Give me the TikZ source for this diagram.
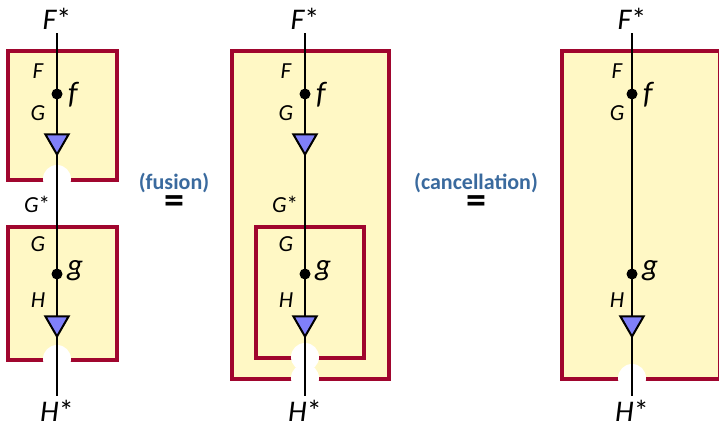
\documentclass[tikz,border=0pt]{standalone}
\usepackage{fontspec}
\setmainfont{Carlito}
\usetikzlibrary{shapes.geometric}

\definecolor{boxred}{HTML}{A0062E}
\definecolor{boxfill}{HTML}{FFF8C5}
\definecolor{trifill}{HTML}{8080FA}
\definecolor{rulecol}{HTML}{3A6A9E}

\tikzset{
  region/.style={draw=boxred, fill=boxfill, line width=3.5pt},
  notch/.style={fill=white},
  wire/.style={line width=2.2pt},
  dotnode/.style={circle, fill=black, inner sep=0pt, minimum size=11pt},
  dualtri/.style={regular polygon, regular polygon sides=3, shape border rotate=180,
    draw=black, fill=trifill, line width=2pt, inner sep=0pt, minimum size=27pt},
  endlbl/.style={font=\fontsize{30}{32}\selectfont\itshape, inner sep=0pt},
  maplbl/.style={font=\fontsize{31}{33}\selectfont\itshape, inner sep=0pt, anchor=west},
  objlbl/.style={font=\fontsize{23}{25}\selectfont\itshape, inner sep=0pt},
  rulelbl/.style={font=\fontsize{22}{24}\selectfont\bfseries, text=rulecol, inner sep=0pt},
  eqlbl/.style={font=\fontsize{40}{40}\selectfont\bfseries, inner sep=0pt}
}

\begin{document}
\begin{tikzpicture}[x=1pt, y=-1pt]
  \useasboundingbox (0,0) rectangle (719,423);
  % Left: two separate regions
  \begin{scope}[shift={(57,0)}]
    \draw[region] (-49,51) rectangle (60,180);
    \draw[region] (-49,227) rectangle (60,360);
    \fill[notch] (0,179) circle (14pt);
    \fill[notch] (0,359) circle (14pt);
    \coordinate (topa) at (0,33);
    \coordinate (bota) at (0,396);
    \draw[wire] (topa) -- (bota);
    \node[endlbl] (Fsa) at (0,19) {F{\upshape*}};
    \node[endlbl] (Hsa) at (0,411) {H{\upshape*}};
    \node[objlbl] (Fa) at (-19,71) {F};
    \node[objlbl] (Ga) at (-19,113) {G};
    \node[objlbl] (Gsa) at (-20,204) {G{\upshape*}};
    \node[objlbl] (Gb) at (-19,244) {G};
    \node[objlbl] (Ha) at (-19,300) {H};
    \node[dotnode] (fa) at (0,94) {};
    \node[maplbl] (fla) at (11,95) {f};
    \node[dotnode] (ga) at (0,274) {};
    \node[maplbl] (gla) at (10,271) {g};
    \node[dualtri] (ta) at (0,141) {};
    \node[dualtri] (tb) at (0,323) {};
  \end{scope}
  % fusion step
  \node[rulelbl] (fusion) at (174,183) {(fusion)};
  \node[eqlbl] (eqa) at (174,205) {=};
  % Middle: nested regions
  \begin{scope}[shift={(305,0)}]
    \draw[region] (-73,51) rectangle (84,379);
    \draw[region] (-49,227) rectangle (59,358);
    \fill[notch] (0,378) circle (14pt);
    \fill[notch] (0,357) circle (14pt);
    \coordinate (topb) at (0,33);
    \coordinate (botb) at (0,396);
    \draw[wire] (topb) -- (botb);
    \node[endlbl] (Fsb) at (0,19) {F{\upshape*}};
    \node[endlbl] (Hsb) at (0,411) {H{\upshape*}};
    \node[objlbl] (Fc) at (-19,71) {F};
    \node[objlbl] (Gc) at (-19,113) {G};
    \node[objlbl] (Gsc) at (-20,204) {G{\upshape*}};
    \node[objlbl] (Gd) at (-19,244) {G};
    \node[objlbl] (Hc) at (-19,300) {H};
    \node[dotnode] (fb) at (0,94) {};
    \node[maplbl] (flb) at (11,95) {f};
    \node[dotnode] (gb) at (0,274) {};
    \node[maplbl] (glb) at (10,271) {g};
    \node[dualtri] (tc) at (0,141) {};
    \node[dualtri] (td) at (0,323) {};
  \end{scope}
  % cancellation step
  \node[rulelbl] (cancel) at (476,183) {(cancellation)};
  \node[eqlbl] (eqb) at (476,205) {=};
  % Right: one region
  \begin{scope}[shift={(632,0)}]
    \draw[region] (-70,51) rectangle (88,379);
    \fill[notch] (0,378) circle (14pt);
    \coordinate (topc) at (0,33);
    \coordinate (botc) at (0,396);
    \draw[wire] (topc) -- (botc);
    \node[endlbl] (Fsc) at (0,19) {F{\upshape*}};
    \node[endlbl] (Hsc) at (0,411) {H{\upshape*}};
    \node[objlbl] (Fe) at (-15,71) {F};
    \node[objlbl] (Ge) at (-15,113) {G};
    \node[objlbl] (He) at (-15,300) {H};
    \node[dotnode] (fc) at (0,94) {};
    \node[maplbl] (flc) at (11,95) {f};
    \node[dotnode] (gc) at (0,274) {};
    \node[maplbl] (glc) at (10,271) {g};
    \node[dualtri] (te) at (0,323) {};
  \end{scope}
\end{tikzpicture}
\end{document}
